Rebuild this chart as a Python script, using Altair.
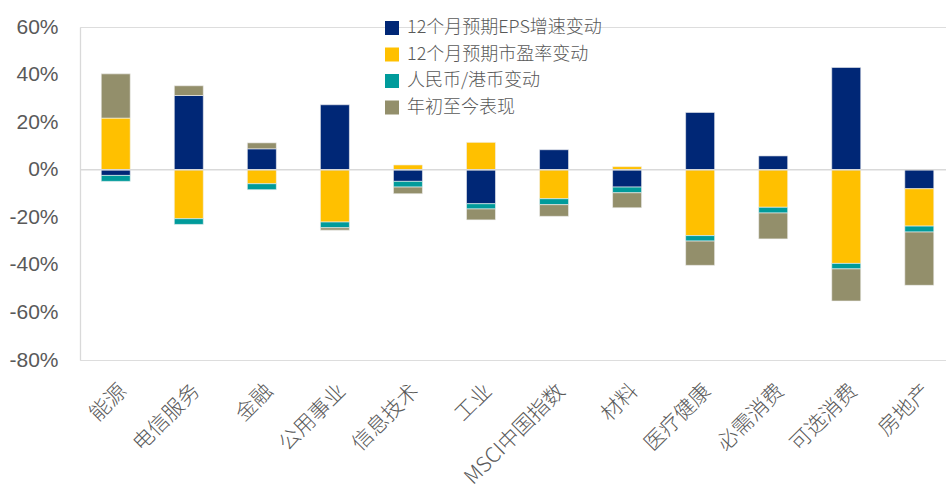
import altair as alt
import pandas as pd

categories = ["能源", "电信服务", "金融", "公用事业", "信息技术", "工业", "MSCI中国指数",
              "材料", "医疗健康", "必需消费", "可选消费", "房地产"]
series = ["12个月预期EPS增速变动", "12个月预期市盈率变动", "人民币/港币变动", "年初至今表现"]
eps = [-2.4, 31.2, 8.8, 27.3, -4.9, -14.3, 8.4, -7.3, 24.1, 5.8, 43.0, -8.0]
pe = [21.7, -20.6, -5.9, -22.0, 2.0, 11.5, -12.2, 1.3, -27.7, -15.8, -39.4, -15.7]
fx = [-2.5, -2.4, -2.5, -2.4, -2.4, -2.2, -2.5, -2.4, -2.3, -2.4, -2.3, -2.5]
ytd = [18.6, 4.1, 2.5, -1.0, -2.8, -4.6, -4.9, -6.3, -10.2, -10.9, -13.5, -22.4]
colors = ["#002776", "#FFC000", "#009B9B", "#938F6B"]

rows = []
for si, (name, vals) in enumerate(zip(series, [eps, pe, fx, ytd])):
    for c, v in zip(categories, vals):
        rows.append({"cat": c, "series": name, "value": v, "order": si})
df = pd.DataFrame(rows)

grey = "#595959"
cjk = "Noto Sans CJK SC"

bars = alt.Chart(df).mark_bar(stroke="#f2f2f2", strokeWidth=0.6).encode(
    x=alt.X("cat:N", sort=categories, title=None,
            scale=alt.Scale(paddingInner=0.603, paddingOuter=0.229, align=0.635),
            axis=alt.Axis(domain=False, ticks=False, labelAngle=-45, labelFontSize=21,
                          labelFont=cjk, labelColor=grey, labelPadding=20, labelFontWeight=300,
                          labelLimit=0)),
    y=alt.Y("value:Q", stack="zero", title=None,
            scale=alt.Scale(domain=[-80, 60], nice=False, zero=False),
            axis=alt.Axis(values=[-80, -60, -40, -20, 0, 20, 40, 60], labelExpr="datum.value + '%'",
                          grid=False, ticks=False, domain=True, domainColor="#d9d9d9", domainWidth=1.3,
                          labelFontSize=21, labelFont="Liberation Sans", labelColor=grey,
                          labelPadding=22)),
    color=alt.Color("series:N", sort=series, title=None,
                    scale=alt.Scale(domain=series, range=colors),
                    legend=alt.Legend(orient="none", legendX=303, legendY=-8, symbolType="square",
                                      symbolSize=196, symbolStrokeWidth=0, labelFontSize=18,
                                      labelFont=cjk, labelColor=grey, rowPadding=8.5, labelFontWeight=300,
                                      labelLimit=0, labelOffset=6)),
    order=alt.Order("order:Q"),
)

zero = alt.Chart(pd.DataFrame({"y": [0]})).mark_rule(color="#d9d9d9", strokeWidth=1.5).encode(
    y=alt.Y("y:Q"))

chart = alt.layer(bars, zero).properties(
    width=866, height=333,
    padding={"left": 80, "top": 27, "right": 0, "bottom": 133},
    autosize=alt.AutoSizeParams(type="none"),
).configure_view(stroke=None).configure(background="white")

chart.save("out.html", embed_options={"renderer": "svg", "actions": False})
